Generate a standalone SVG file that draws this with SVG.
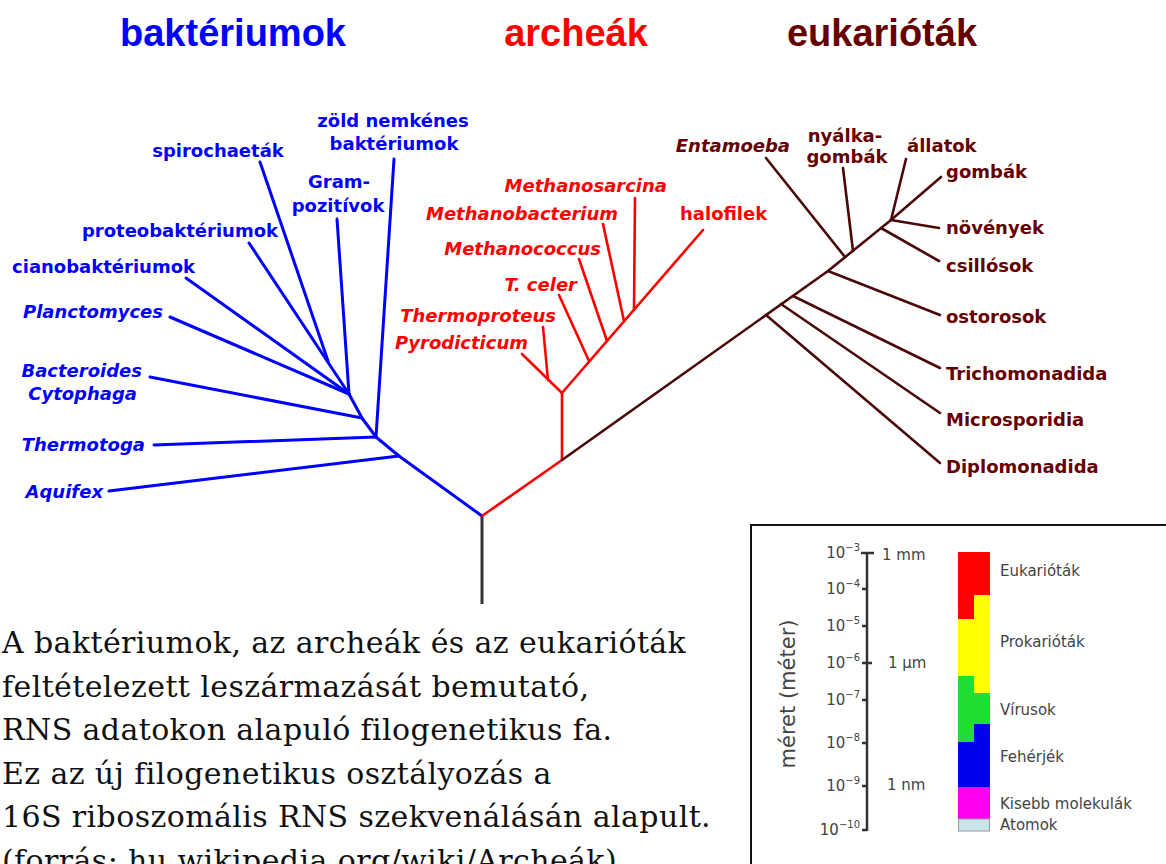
<svg xmlns="http://www.w3.org/2000/svg" width="1166" height="864" viewBox="0 0 1166 864">
<style>
.h{font-family:"Liberation Sans",Arial,sans-serif;font-weight:bold;font-size:38px}
.lb{font-family:"DejaVu Sans",Verdana,sans-serif;font-weight:bold;font-size:18px}
.it{font-style:italic}
.b{fill:#0000ff}.r{fill:#ff0000}.e{fill:#660000}
.lnb{stroke:#0000ff;stroke-width:3;fill:none;stroke-linecap:round;stroke-linejoin:round}
.lnr{stroke:#ff0000;stroke-width:2.6;fill:none;stroke-linecap:round;stroke-linejoin:round}
.lne{stroke:#4a0808;stroke-width:2.6;fill:none;stroke-linecap:round;stroke-linejoin:round}
.cap{font-family:"DejaVu Serif","Liberation Serif",serif;font-size:30px;letter-spacing:0.4px;fill:#111}
.ct{font-family:"DejaVu Sans",sans-serif;font-size:15px;fill:#444}
.sup{font-size:10px}
</style>
<rect width="1166" height="864" fill="#fff"/>
<g id="headings">
<text class="h b" x="233" y="46" text-anchor="middle">baktériumok</text>
<text class="h r" x="576" y="46" text-anchor="middle">archeák</text>
<text class="h e" x="882" y="46" text-anchor="middle">eukarióták</text>
</g>
<g id="connectors">
<line x1="482" y1="516" x2="482" y2="604" stroke="#333" stroke-width="3"/>
<polyline class="lnb" points="482,516 399,456 376,437 362,418 349,394"/>
<line class="lnb" x1="399" y1="456" x2="109" y2="491"/>
<line class="lnb" x1="376" y1="437" x2="154" y2="445"/>
<line class="lnb" x1="376" y1="437" x2="394" y2="159"/>
<line class="lnb" x1="362" y1="418" x2="150" y2="377"/>
<line class="lnb" x1="349" y1="394" x2="170" y2="317"/>
<line class="lnb" x1="349" y1="394" x2="186" y2="278"/>
<line class="lnb" x1="349" y1="394" x2="249" y2="243"/>
<line class="lnb" x1="328" y1="361" x2="260" y2="162"/>
<line class="lnb" x1="349" y1="394" x2="337" y2="219"/>
<polyline class="lnr" points="482,516 562,460 562,393"/>
<line class="lnr" x1="562" y1="393" x2="522" y2="354"/>
<line class="lnr" x1="548" y1="380" x2="543" y2="327"/>
<line class="lnr" x1="562" y1="393" x2="703" y2="230"/>
<line class="lnr" x1="589" y1="361" x2="559" y2="295"/>
<line class="lnr" x1="607" y1="341" x2="579" y2="259"/>
<line class="lnr" x1="624" y1="321" x2="603" y2="224"/>
<line class="lnr" x1="634" y1="310" x2="635" y2="198"/>
<polyline class="lne" points="562,460 828,271 891,220"/>
<line class="lne" x1="766" y1="315" x2="940" y2="463"/>
<line class="lne" x1="781" y1="304" x2="940" y2="413"/>
<line class="lne" x1="793" y1="296" x2="940" y2="368"/>
<line class="lne" x1="828" y1="271" x2="940" y2="315"/>
<line class="lne" x1="845" y1="257" x2="766" y2="158"/>
<line class="lne" x1="853" y1="251" x2="843" y2="168"/>
<line class="lne" x1="881" y1="228" x2="939" y2="261"/>
<line class="lne" x1="891" y1="220" x2="906" y2="159"/>
<line class="lne" x1="891" y1="220" x2="941" y2="177"/>
<line class="lne" x1="891" y1="220" x2="939" y2="228"/>
</g>
<g id="bacteria-labels">
<g id="n-zold"><text class="lb b" x="393" y="127" text-anchor="middle">zöld nemkénes</text><text class="lb b" x="394" y="150" text-anchor="middle">baktériumok</text></g>
<g id="n-spiro"><text class="lb b" x="218" y="157" text-anchor="middle">spirochaeták</text></g>
<g id="n-gram"><text class="lb b" x="339" y="188" text-anchor="middle">Gram-</text><text class="lb b" x="338" y="212" text-anchor="middle">pozitívok</text></g>
<g id="n-proteo"><text class="lb b" x="278" y="237" text-anchor="end">proteobaktériumok</text></g>
<g id="n-ciano"><text class="lb b" x="195" y="273" text-anchor="end">cianobaktériumok</text></g>
<g id="n-planc"><text class="lb b it" x="163" y="318" text-anchor="end">Planctomyces</text></g>
<g id="n-bact"><text class="lb b it" x="142" y="377" text-anchor="end">Bacteroides</text><text class="lb b it" x="137" y="400" text-anchor="end">Cytophaga</text></g>
<g id="n-thermotoga"><text class="lb b it" x="145" y="451" text-anchor="end">Thermotoga</text></g>
<g id="n-aquifex"><text class="lb b it" x="103" y="498" text-anchor="end">Aquifex</text></g>
</g>
<g id="archaea-labels">
<g id="n-msarc"><text class="lb r it" x="667" y="192" text-anchor="end">Methanosarcina</text></g>
<g id="n-mbact"><text class="lb r it" x="618" y="220" text-anchor="end">Methanobacterium</text></g>
<g id="n-halo"><text class="lb r" x="680" y="220">halofilek</text></g>
<g id="n-mcocc"><text class="lb r it" x="601" y="255" text-anchor="end">Methanococcus</text></g>
<g id="n-tceler"><text class="lb r it" x="577" y="291" text-anchor="end">T. celer</text></g>
<g id="n-tprot"><text class="lb r it" x="556" y="322" text-anchor="end">Thermoproteus</text></g>
<g id="n-pyro"><text class="lb r it" x="528" y="349" text-anchor="end">Pyrodicticum</text></g>
</g>
<g id="eukarya-labels">
<g id="n-entam"><text class="lb e it" x="790" y="152" text-anchor="end">Entamoeba</text></g>
<g id="n-nyalka"><text class="lb e" x="845" y="142" text-anchor="middle">nyálka-</text><text class="lb e" x="847" y="163" text-anchor="middle">gombák</text></g>
<g id="n-allat"><text class="lb e" x="907" y="152">állatok</text></g>
<g id="n-gomb"><text class="lb e" x="946" y="178">gombák</text></g>
<g id="n-noven"><text class="lb e" x="946" y="234">növények</text></g>
<g id="n-csill"><text class="lb e" x="946" y="272">csillósok</text></g>
<g id="n-ostor"><text class="lb e" x="946" y="323">ostorosok</text></g>
<g id="n-trich"><text class="lb e" x="946" y="380">Trichomonadida</text></g>
<g id="n-micro"><text class="lb e" x="946" y="426">Microsporidia</text></g>
<g id="n-diplo"><text class="lb e" x="946" y="473">Diplomonadida</text></g>
</g>
<g id="caption">
<text class="cap" x="2" y="653">A baktériumok, az archeák és az eukarióták</text>
<text class="cap" x="2" y="696.5">feltételezett leszármazását bemutató,</text>
<text class="cap" x="2" y="740">RNS adatokon alapuló filogenetikus fa.</text>
<text class="cap" x="2" y="783.5">Ez az új filogenetikus osztályozás a</text>
<text class="cap" x="2" y="827">16S riboszomális RNS szekvenálásán alapult.</text>
<text class="cap" x="2" y="870.5">(forrás: hu.wikipedia.org/wiki/Archeák)</text>
</g>
<g id="size-chart">
<rect x="751" y="525" width="440" height="360" fill="#fff" stroke="#111" stroke-width="2"/>
<text class="ct" transform="translate(795,694) rotate(-90)" text-anchor="middle" style="font-size:21px">méret (méter)</text>
<g stroke="#333" stroke-width="2.5" fill="none">
<line x1="867" y1="553" x2="867" y2="831"/>
<line x1="861" y1="553" x2="874" y2="553"/>
<line x1="862" y1="589" x2="867" y2="589"/>
<line x1="862" y1="626" x2="867" y2="626"/>
<line x1="862" y1="663" x2="872" y2="663"/>
<line x1="862" y1="700" x2="867" y2="700"/>
<line x1="862" y1="743" x2="867" y2="743"/>
<line x1="862" y1="786" x2="867" y2="786"/>
<line x1="862" y1="830" x2="867" y2="830"/>
</g>
<g class="ct" text-anchor="end">
<text x="860" y="558">10<tspan class="sup" dy="-7">−3</tspan></text>
<text x="860" y="594">10<tspan class="sup" dy="-7">−4</tspan></text>
<text x="860" y="631">10<tspan class="sup" dy="-7">−5</tspan></text>
<text x="860" y="668">10<tspan class="sup" dy="-7">−6</tspan></text>
<text x="860" y="705">10<tspan class="sup" dy="-7">−7</tspan></text>
<text x="860" y="748">10<tspan class="sup" dy="-7">−8</tspan></text>
<text x="860" y="791">10<tspan class="sup" dy="-7">−9</tspan></text>
<text x="860" y="835">10<tspan class="sup" dy="-7">−10</tspan></text>
</g>
<text class="ct" x="882" y="560">1 mm</text>
<text class="ct" x="888" y="668">1 μm</text>
<text class="ct" x="887" y="790">1 nm</text>
<rect x="958" y="552" width="16" height="67" fill="#ff0000"/>
<rect x="974" y="552" width="16" height="43" fill="#ff0000"/>
<rect x="958" y="619" width="16" height="57" fill="#ffff00"/>
<rect x="974" y="595" width="16" height="98" fill="#ffff00"/>
<rect x="958" y="676" width="16" height="66" fill="#22dd33"/>
<rect x="974" y="693" width="16" height="31" fill="#22dd33"/>
<rect x="958" y="742" width="16" height="45" fill="#0000ee"/>
<rect x="974" y="724" width="16" height="63" fill="#0000ee"/>
<rect x="958" y="787" width="32" height="32" fill="#ff00ee"/>
<rect x="958.5" y="819" width="31" height="12" fill="#c8e4ec" stroke="#999" stroke-width="1"/>
<text class="ct" x="1000" y="576">Eukarióták</text>
<text class="ct" x="1000" y="647">Prokarióták</text>
<text class="ct" x="1000" y="715">Vírusok</text>
<text class="ct" x="1000" y="762">Fehérjék</text>
<text class="ct" x="1000" y="809">Kisebb molekulák</text>
<text class="ct" x="1000" y="830">Atomok</text>
</g>
</svg>
